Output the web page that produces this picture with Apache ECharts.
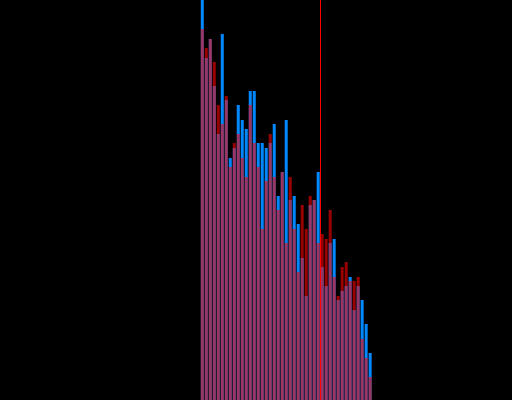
<!DOCTYPE html>
<html>
<head>
<meta charset="utf-8">
<script src="https://cdn.jsdelivr.net/npm/echarts@6/dist/echarts.min.js"></script>
<style>
html,body{margin:0;padding:0;background:#000;}
#chart{width:512px;height:400px;}
</style>
</head>
<body>
<div id="chart"></div>
<script>
// Histogram bins: left edge of first bin, bin width 1
var binStart = 50;
var blueCounts = [410, 342, 361, 314, 266, 366, 300, 242, 252, 295, 280, 271, 309, 309, 257,
                  257, 252, 257, 276, 204, 228, 280, 200, 204, 176, 142, 104, 195, 200, 228,
                  133, 114, 157, 161, 100, 109, 114, 123, 90, 114, 100, 76, 47];
var redCounts  = [371, 352, 361, 338, 295, 276, 304, 233, 257, 266, 242, 223, 295, 257, 233,
                  171, 219, 266, 223, 190, 228, 157, 223, 171, 128, 195, 171, 204, 200, 157,
                  166, 161, 190, 123, 104, 133, 138, 119, 119, 123, 61, 42, 23];
var markValue = 80;

function toPoints(arr) {
  return arr.map(function (v, i) { return [binStart + i + 0.5, v]; });
}

var chart = echarts.init(document.getElementById('chart'), null, {renderer: 'canvas'});
chart.setOption({
  animation: false,
  backgroundColor: '#000000',
  grid: {left: 0.5, top: 0, width: 512, height: 400, containLabel: false},
  xAxis: {
    type: 'value', min: 0, max: 128,
    show: false, splitLine: {show: false}
  },
  yAxis: {
    type: 'value', min: 0, max: 400,
    show: false, splitLine: {show: false}
  },
  series: [
    {
      type: 'bar',
      data: toPoints(blueCounts),
      barWidth: 3,
      barGap: '-100%',
      itemStyle: {color: '#0088ff'}
    },
    {
      type: 'bar',
      data: toPoints(redCounts),
      barWidth: 3,
      barGap: '-100%',
      itemStyle: {color: '#ff0000', opacity: 0.6},
      markLine: {
        silent: true,
        symbol: ['none', 'none'],
        label: {show: false},
        lineStyle: {color: '#ff0000', width: 1, type: 'solid', opacity: 1},
        data: [{xAxis: markValue}]
      }
    }
  ]
});
</script>
</body>
</html>
